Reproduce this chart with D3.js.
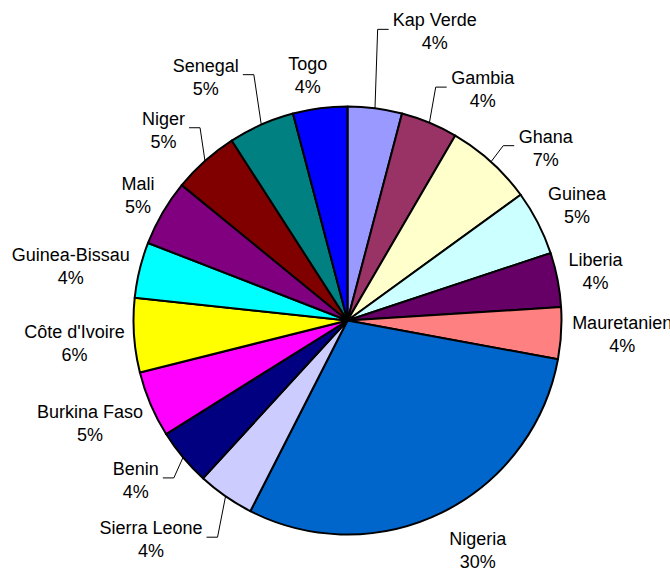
<!DOCTYPE html>
<html><head><meta charset="utf-8">
<script src="https://cdn.jsdelivr.net/npm/d3@7"></script>
<style>html,body{margin:0;padding:0;background:#fff;overflow:hidden}</style>
</head><body>
<svg id="chart" width="670" height="568"></svg>
<script>
// Data
const countries = ["Kap Verde","Gambia","Ghana","Guinea","Liberia","Mauretanien","Nigeria","Sierra Leone","Benin","Burkina Faso","Côte d'Ivoire","Guinea-Bissau","Mali","Niger","Senegal","Togo"];
const shares = [4.1,4.3,6.6,4.9,4.1,3.9,29.6,4.3,4.3,5.0,5.6,4.2,5.0,5.0,5.0,4.1];
const colors = ["#9999FF","#993366","#FFFFCC","#CCFFFF","#660066","#FF8080","#0066CC","#CCCCFF","#000080","#FF00FF","#FFFF00","#00FFFF","#800080","#800000","#008080","#0000FF"];
// Label layout: angle offset from slice mid-angle (deg), distance from centre (px), leader line flag
const labelAngleOffset = [9.4,7.8,6.8,0.4,-0.4,-0.6,-3.3,7.2,2.8,1.4,-0.7,-2.5,0.6,-2.2,-6.4,-1.8];
const labelDist = [302,268,263,257,253,275,264,294,265,277,274,282,244,265,282,249];
const hasLeader = [true,true,true,false,false,false,false,true,true,false,false,false,false,true,true,false];

const svg = d3.select("#chart");
const cx = 347.5, cy = 320.5, R = 214;
const g = svg.append("g").attr("transform", `translate(${cx},${cy})`);
const total = d3.sum(shares);
const data = countries.map((c,i)=>({name:c, value:shares[i], color:colors[i], i}));
const pie = d3.pie().value(d=>d.value).sort(null);
const arcs = pie(data);
const arc = d3.arc().innerRadius(0).outerRadius(R);

g.selectAll("path.slice").data(arcs).join("path")
  .attr("class","slice")
  .attr("d", arc)
  .attr("fill", d=>d.data.color)
  .attr("stroke","#000").attr("stroke-width",2).attr("stroke-linejoin","round");

const fontSize = 18;
const lab = g.append("g");
arcs.forEach((a,i)=>{
  const mid = (a.startAngle + a.endAngle)/2;
  const ang = mid + labelAngleOffset[i]*Math.PI/180;
  const lx = Math.sin(ang)*labelDist[i];
  const ly = -Math.cos(ang)*labelDist[i];
  const t = lab.append("text")
    .attr("font-family","'Liberation Sans', Arial, sans-serif")
    .attr("font-size",fontSize).attr("fill","#000").attr("text-anchor","middle");
  t.append("tspan").attr("x",lx).attr("y",ly-5).text(a.data.name);
  t.append("tspan").attr("x",lx).attr("y",ly+18).text(Math.round(a.data.value/total*100)+"%");
  if (hasLeader[i]) {
    const w = t.node().getBBox().width;
    const side = lx > Math.sin(mid)*R ? -1 : 1; // label right of anchor -> line enters from left
    const edgeX = lx + side*(w/2 + 4);
    const elbowX = edgeX + side*11;
    const ax = Math.sin(mid)*R, ay = -Math.cos(mid)*R;
    lab.append("path")
      .attr("d", `M${ax},${ay}L${elbowX},${ly-2}L${edgeX},${ly-2}`)
      .attr("fill","none").attr("stroke","#000").attr("stroke-width",1);
  }
});
</script>
</body></html>
